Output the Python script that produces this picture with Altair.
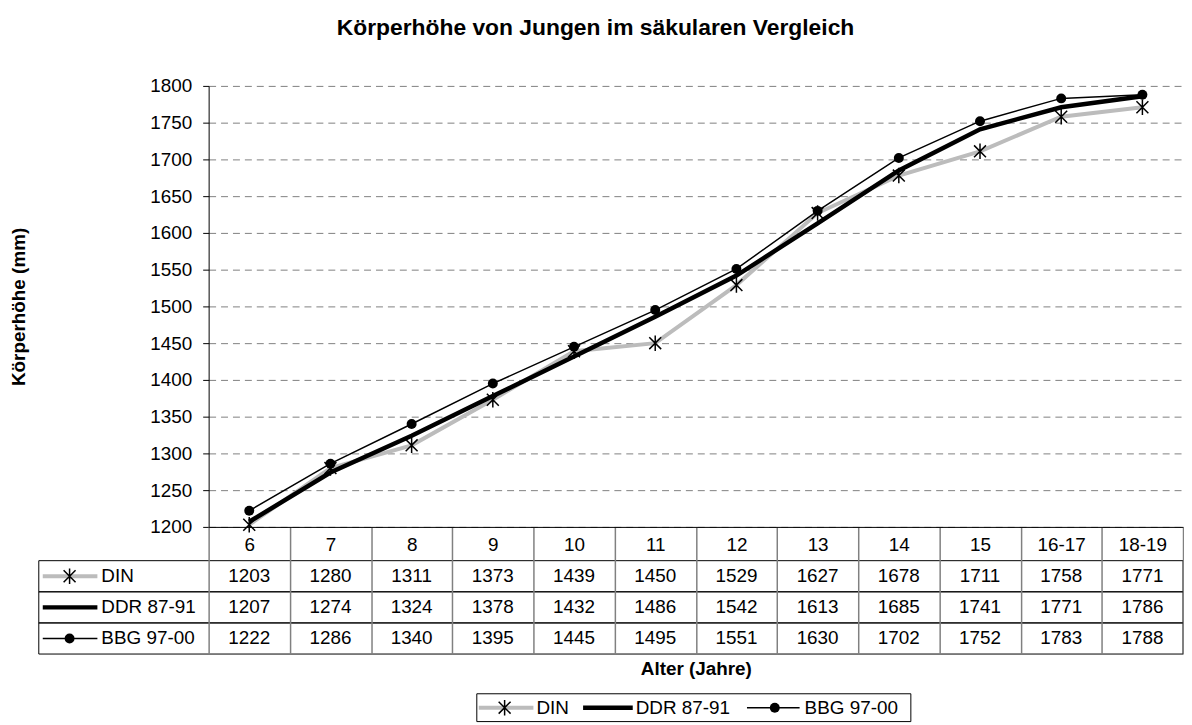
import altair as alt
import pandas as pd

# ---------------- data ----------------
AGES = ["6", "7", "8", "9", "10", "11", "12", "13", "14", "15", "16-17", "18-19"]
SERIES = ["DIN", "DDR 87-91", "BBG 97-00"]
DIN = [1203, 1280, 1311, 1373, 1439, 1450, 1529, 1627, 1678, 1711, 1758, 1771]
DDR = [1207, 1274, 1324, 1378, 1432, 1486, 1542, 1613, 1685, 1741, 1771, 1786]
BBG = [1222, 1286, 1340, 1395, 1445, 1495, 1551, 1630, 1702, 1752, 1783, 1788]
Y_TICKS = list(range(1200, 1801, 50))

TITLE = "Körperhöhe von Jungen im säkularen Vergleich"
Y_TITLE = "Körperhöhe (mm)"
X_TITLE = "Alter (Jahre)"

VALUES = {"DIN": DIN, "DDR 87-91": DDR, "BBG 97-00": BBG}
rows = []
for s in SERIES:
    for i, (a, v) in enumerate(zip(AGES, VALUES[s])):
        rows.append({"series": s, "age": a, "value": v, "order": i})
df = pd.DataFrame(rows)
series_df = pd.DataFrame({"series": SERIES})

# ---------------- layout / style ----------------
FONT = "Liberation Sans"
FS = 19
W, H = 981, 444
TABLE_TOP, TABLE_BOTTOM = 478, 572
STYLE = {
    "DIN": dict(color="#bcbcbc", width=4, marker="star"),
    "DDR 87-91": dict(color="black", width=4.5, marker=None),
    "BBG 97-00": dict(color="black", width=1.5, marker="circle"),
}
STAR = "M-1,-1L1,1M1,-1L-1,1M0,-1.3L0,1.3"

# table label column (pixels relative to plot)
SYM_X0, SYM_X1, SYM_MX, LABEL_X, TABLE_LEFT = -167, -112, -140, -108, -171
# legend layout
LEG_BOX = (270, 707, 612, 640)
LEG_Y = 626
LEG_LINE = {"DIN": (272, 327), "DDR 87-91": (377, 427), "BBG 97-00": (542, 595)}
LEG_MARK = {"DIN": 298, "BBG 97-00": 570}
LEG_TEXT = {"DIN": 330, "DDR 87-91": 430, "BBG 97-00": 600}

x_enc = alt.X(
    "age:N",
    scale=alt.Scale(type="band", domain=AGES, paddingInner=0, paddingOuter=0),
    axis=alt.Axis(
        title=X_TITLE, titleFont=FONT, titleFontSize=FS, titleFontWeight="bold",
        titleColor="black", titleY=143, titleBaseline="middle",
        labelFont=FONT, labelFontSize=FS, labelColor="black", labelAngle=0,
        labelPadding=-119, labelOverlap=False, labelFlush=False,
        tickBand="extent", tickSize=128, tickColor="#808080", tickWidth=1.5,
        domainColor="black", domainWidth=1, grid=False, zindex=1,
    ),
)
y_scale = alt.Scale(domain=[1200, 1800], nice=False, zero=False)
y_axis = alt.Axis(
    values=Y_TICKS, format="d", title=Y_TITLE, titleFont=FONT, titleFontSize=FS,
    titleFontWeight="bold", titleColor="black", titleX=-191, titleY=H / 2,
    titleBaseline="middle", titleAlign="center",
    labelFont=FONT, labelFontSize=FS, labelColor="black", labelPadding=11,
    tickSize=6, tickColor="black", domainColor="black",
    gridColor="#808080", gridDash=[7, 5], gridWidth=1,
)
y_enc = alt.Y("value:Q", scale=y_scale, axis=y_axis)

base = alt.Chart(df)

lines = []
marks = []
for s in SERIES:
    st = STYLE[s]
    lines.append(
        base.transform_filter(alt.datum.series == s)
        .mark_line(color=st["color"], strokeWidth=st["width"])
        .encode(x=x_enc, y=y_enc, order="order:Q")
    )
    if st["marker"] == "star":
        marks.append(
            base.transform_filter(alt.datum.series == s)
            .mark_point(shape=STAR, filled=False, stroke="black", strokeWidth=1.5,
                        size=144, opacity=1)
            .encode(x=x_enc, y=y_enc)
        )
    elif st["marker"] == "circle":
        marks.append(
            base.transform_filter(alt.datum.series == s)
            .mark_point(shape="circle", filled=True, fill="black", size=100, opacity=1)
            .encode(x=x_enc, y=y_enc)
        )
main = alt.layer(*lines, *marks)

# ---------------- data table ----------------
ty = alt.Y(
    "series:N",
    scale=alt.Scale(type="band", domain=SERIES, range=[TABLE_TOP, TABLE_BOTTOM],
                    paddingInner=0, paddingOuter=0),
    axis=None,
)
sbase = alt.Chart(series_df)
row_rects = sbase.mark_rect(fillOpacity=0, stroke="black", strokeWidth=1).encode(
    x=alt.value(TABLE_LEFT), x2=alt.value(W), y=ty
)
cell_text = base.mark_text(font=FONT, fontSize=FS, color="black", baseline="middle").encode(
    x=x_enc, y=ty, text="value:Q"
)
row_labels = sbase.mark_text(font=FONT, fontSize=FS, color="black", align="left",
                             baseline="middle").encode(
    x=alt.value(LABEL_X), y=ty, text="series:N"
)
table_layers = [row_rects, cell_text, row_labels]
for s in SERIES:
    st = STYLE[s]
    sb = sbase.transform_filter(alt.datum.series == s)
    table_layers.append(
        sb.mark_rule(color=st["color"], strokeWidth=st["width"]).encode(
            x=alt.value(SYM_X0), x2=alt.value(SYM_X1), y=ty)
    )
    if st["marker"] == "star":
        table_layers.append(
            sb.mark_point(shape=STAR, filled=False, stroke="black", strokeWidth=1.5,
                          size=144, opacity=1).encode(x=alt.value(SYM_MX), y=ty)
        )
    elif st["marker"] == "circle":
        table_layers.append(
            sb.mark_point(shape="circle", filled=True, fill="black", size=100,
                          opacity=1).encode(x=alt.value(SYM_MX), y=ty)
        )
table = alt.layer(*table_layers)

# ---------------- legend ----------------
legend_layers = [
    sbase.transform_filter(alt.datum.series == SERIES[0])
    .mark_rect(fillOpacity=0, stroke="black", strokeWidth=1)
    .encode(x=alt.value(LEG_BOX[0]), x2=alt.value(LEG_BOX[1]),
            y=alt.value(LEG_BOX[2]), y2=alt.value(LEG_BOX[3]))
]
for s in SERIES:
    st = STYLE[s]
    sb = sbase.transform_filter(alt.datum.series == s)
    x0, x1 = LEG_LINE[s]
    legend_layers.append(
        sb.mark_rule(color=st["color"], strokeWidth=st["width"]).encode(
            x=alt.value(x0), x2=alt.value(x1), y=alt.value(LEG_Y))
    )
    if st["marker"] == "star":
        legend_layers.append(
            sb.mark_point(shape=STAR, filled=False, stroke="black", strokeWidth=1.5,
                          size=144, opacity=1).encode(x=alt.value(LEG_MARK[s]), y=alt.value(LEG_Y))
        )
    elif st["marker"] == "circle":
        legend_layers.append(
            sb.mark_point(shape="circle", filled=True, fill="black", size=100,
                          opacity=1).encode(x=alt.value(LEG_MARK[s]), y=alt.value(LEG_Y))
        )
    legend_layers.append(
        sb.mark_text(font=FONT, fontSize=FS, color="black", align="left",
                     baseline="middle").encode(
            x=alt.value(LEG_TEXT[s]), y=alt.value(LEG_Y), text="series:N")
    )
legend = alt.layer(*legend_layers)

chart = (
    alt.layer(main, table, legend)
    .resolve_scale(y="independent")
    .properties(
        width=W,
        height=H,
        title=alt.TitleParams(
            TITLE, font=FONT, fontSize=23, fontWeight="bold", color="black",
            anchor="middle", frame="group", dx=-101, offset=26, baseline="middle",
        ),
        padding={"left": 202, "top": 76, "right": 1, "bottom": 197},
        autosize=alt.AutoSizeParams(type="none"),
        background="white",
    )
    .configure_view(strokeOpacity=0)
)

chart.save("out.html", embed_options={"renderer": "svg", "actions": False})
